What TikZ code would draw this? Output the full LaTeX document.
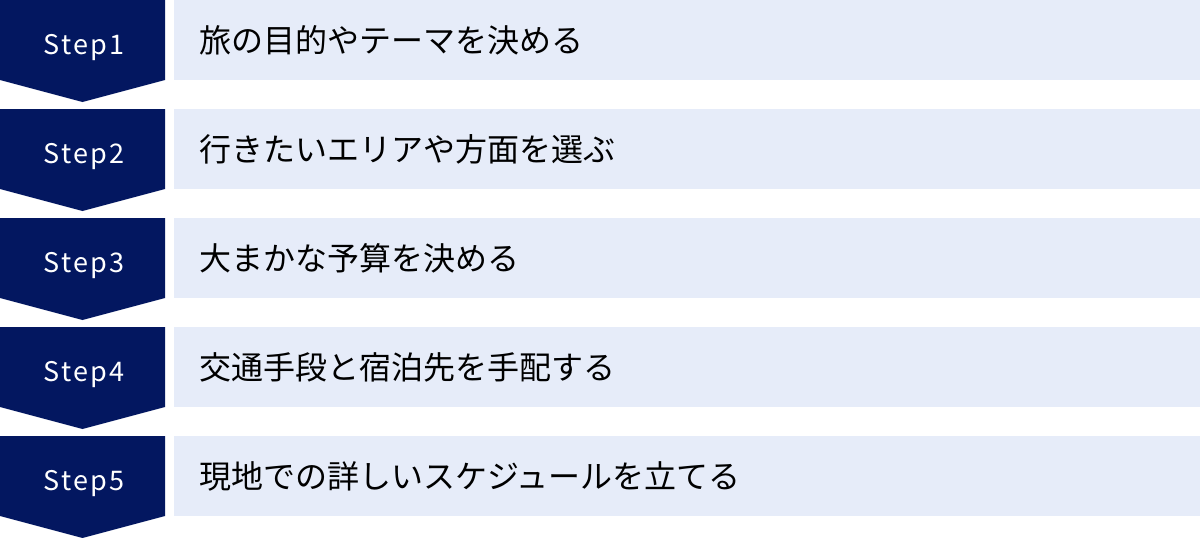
\documentclass[tikz,border=0pt]{standalone}
\usepackage{fontspec}
\setmainfont{Noto Sans CJK JP}
\newfontfamily\stepfont[LetterSpace=8]{Noto Sans CJK JP}
\definecolor{navy}{RGB}{3,23,96}
\definecolor{pale}{RGB}{230,236,249}
\begin{document}
\begin{tikzpicture}[x=1pt,y=-1pt,
  chev/.style={fill=navy,draw=none},
  bar/.style={fill=pale,draw=none},
  steplabel/.style={text=white,font=\stepfont\fontsize{27}{32}\selectfont,anchor=base,inner sep=0pt},
  desc/.style={text=black,font=\fontsize{32}{38}\selectfont,anchor=west,inner sep=0pt}]
\useasboundingbox (0,0) rectangle (1200,538);
\foreach \i/\t in {0/旅の目的やテーマを決める,1/行きたいエリアや方面を選ぶ,2/大まかな予算を決める,3/交通手段と宿泊先を手配する,4/現地での詳しいスケジュールを立てる}{
  \pgfmathsetmacro{\top}{109*\i}
  \pgfmathtruncatemacro{\n}{\i+1}
  \fill[chev] (0,\top) -- (165,\top) -- (165,\top+80) -- (82.5,\top+102) -- (0,\top+80) -- cycle;
  \fill[bar] (174,\top) rectangle (1200,\top+80);
  \node[steplabel] (s\n) at (84,\top+54) {Step\n};
  \node[desc] (d\n) at (199,\top+40) {\t};
}
\end{tikzpicture}
\end{document}
